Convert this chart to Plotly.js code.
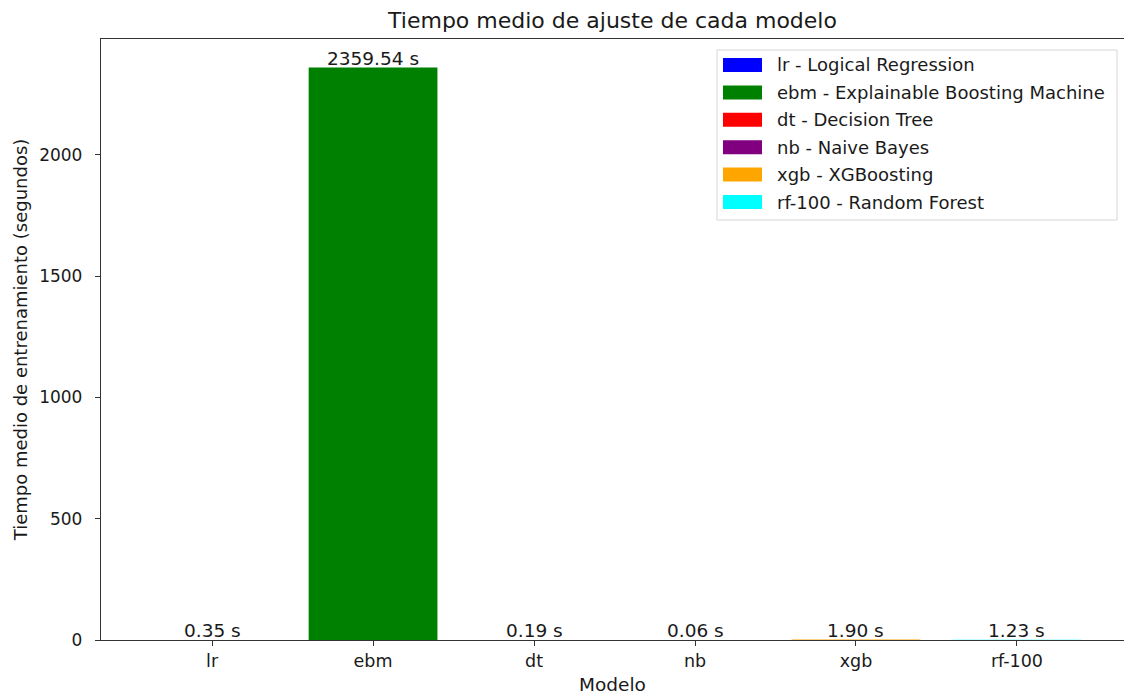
<!DOCTYPE html>
<html>
<head>
<meta charset="utf-8">
<script src="https://cdn.plot.ly/plotly-3.0.1.min.js"></script>
<style>html,body{margin:0;padding:0;background:#fff;}#chart{width:1124px;height:695px;}</style>
</head>
<body>
<div id="chart"></div>
<script>
const categories = ["lr", "ebm", "dt", "nb", "xgb", "rf-100"];
const fitTimes = [0.35, 2359.54, 0.19, 0.06, 1.90, 1.23];
const legendNames = [
  "lr - Logical Regression",
  "ebm - Explainable Boosting Machine",
  "dt - Decision Tree",
  "nb - Naive Bayes",
  "xgb - XGBoosting",
  "rf-100 - Random Forest"
];
const barColors = ["blue", "green", "red", "purple", "orange", "cyan"];

const FONT = "DejaVu Sans, sans-serif";
const TXT = "#1a1a1a";

// plot geometry (pixels)
const W = 1124, H = 695;
const M = {l: 101, r: 0, t: 39, b: 55};
const PW = W - M.l - M.r, PH = H - M.t - M.b;
const px2x = p => (p - M.l) / PW;
const px2y = p => (H - M.b - p) / PH;

const traces = categories.map((c, i) => ({
  type: "bar",
  x: [c],
  y: [fitTimes[i]],
  name: legendNames[i],
  width: 0.8,
  marker: {color: barColors[i], line: {width: 0}},
  showlegend: false,
  hoverinfo: "x+y"
}));

const annotations = categories.map((c, i) => ({
  x: c, y: fitTimes[i], xref: "x", yref: "y",
  text: fitTimes[i].toFixed(2) + " s",
  showarrow: false, yanchor: "bottom", yshift: -3,
  font: {family: FONT, size: 18.5, color: TXT}
}));

// custom matplotlib-like legend
const shapes = [{
  type: "rect", xref: "paper", yref: "paper",
  x0: px2x(717), x1: px2x(1117), y0: px2y(220), y1: px2y(50),
  line: {color: "#d6d6d6", width: 1}, fillcolor: "rgba(255,255,255,0.8)", layer: "above"
}];
legendNames.forEach((name, i) => {
  const cy = 65 + i * 27.4;
  shapes.push({
    type: "rect", xref: "paper", yref: "paper",
    x0: px2x(723), x1: px2x(762), y0: px2y(cy + 7), y1: px2y(cy - 7),
    line: {width: 0}, fillcolor: barColors[i], layer: "above"
  });
  annotations.push({
    xref: "paper", yref: "paper", x: px2x(775), y: px2y(cy),
    xanchor: "left", yanchor: "middle", showarrow: false,
    text: name, font: {family: FONT, size: 18, color: TXT}
  });
});

const ymax = Math.max(...fitTimes) * 1.05;

const layout = {
  width: W, height: H,
  paper_bgcolor: "#fff", plot_bgcolor: "#fff",
  margin: M,
  font: {family: FONT, size: 18, color: TXT},
  title: {text: "Tiempo medio de ajuste de cada modelo", x: 0.5, xref: "paper",
          y: 1 - 20 / H, yanchor: "middle",
          font: {family: FONT, size: 22, color: TXT}},
  barmode: "overlay",
  showlegend: false,
  xaxis: {
    type: "category", range: [-0.69, 5.665],
    showline: true, linecolor: "#333", linewidth: 1.2, mirror: true,
    ticks: "outside", ticklen: 5, tickcolor: "#333", tickwidth: 1,
    showgrid: false, zeroline: false,
    tickfont: {family: FONT, size: 17.5, color: TXT},
    title: {text: "Modelo", font: {family: FONT, size: 18.5, color: TXT}, standoff: 8}
  },
  yaxis: {
    range: [0, ymax],
    tickvals: [0, 500, 1000, 1500, 2000],
    showline: true, linecolor: "#333", linewidth: 1.2,
    ticks: "outside", ticklen: 5, tickcolor: "#333", tickwidth: 1,
    ticklabelstandoff: 9,
    showgrid: false, zeroline: false,
    tickfont: {family: FONT, size: 17, color: TXT},
    title: {text: "Tiempo medio de entrenamiento (segundos)", font: {family: FONT, size: 18, color: TXT}, standoff: 6}
  },
  shapes: shapes,
  annotations: annotations
};

Plotly.newPlot("chart", traces, layout, {staticPlot: true, displayModeBar: false});
</script>
</body>
</html>
